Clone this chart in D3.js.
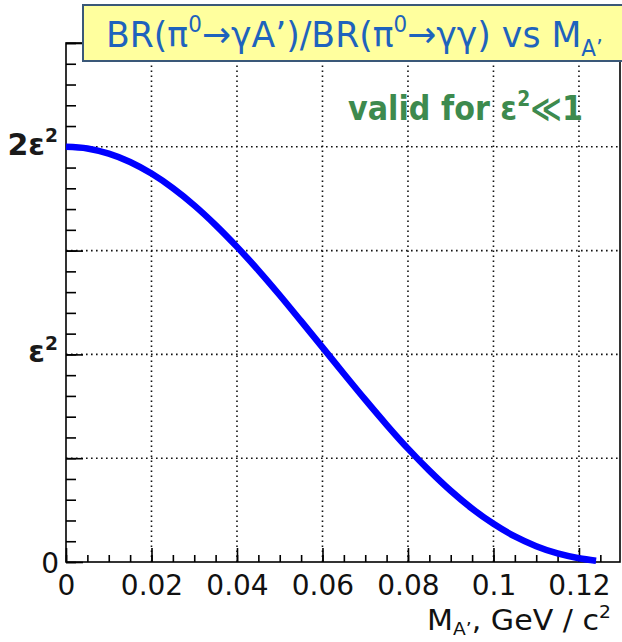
<!DOCTYPE html>
<html><head><meta charset="utf-8">
<script src="https://cdn.jsdelivr.net/npm/d3@7"></script>
<style>body{margin:0;background:#fff}svg{display:block}</style>
</head><body>
<svg id="c" width="622" height="642"></svg>
<script>
// ---- data ----
const massGeV  = [0,0.005,0.01,0.015,0.02,0.025,0.03,0.035,0.04,0.045,0.05,0.055,0.06,0.065,0.07,0.075,0.08,0.085,0.09,0.095,0.10,0.105,0.11,0.115,0.12,0.124];
const brRatio  = [2.000,1.992,1.967,1.927,1.871,1.801,1.718,1.623,1.518,1.405,1.285,1.160,1.034,0.907,0.782,0.661,0.546,0.440,0.343,0.257,0.184,0.123,0.076,0.041,0.018,0.006]; // in units of ε²
const xMajorTicks = [0,0.02,0.04,0.06,0.08,0.1,0.12];
const xTickLabels = ["0","0.02","0.04","0.06","0.08","0.1","0.12"];
const yTickValues = [0,1,2];
const yTickLabels = [["0",""],["ε","2"],["2ε","2"]];
const xGrid = [0.02,0.04,0.06,0.08,0.1,0.12];
const yGrid = [0.5,1,1.5,2];
const xMax = 0.1296, yMax = 2.5;

// ---- layout ----
const L=66,R=620,T=43,B=562;
const svg = d3.select("#c");
const x = d3.scaleLinear().domain([0,xMax]).range([L,R]);
const y = d3.scaleLinear().domain([0,yMax]).range([B,T]);

// gridlines
const grid = svg.append("g").attr("stroke","#111").attr("stroke-width",1.6).attr("stroke-dasharray","1.6 3.4");
grid.selectAll("line.v").data(xGrid).join("line").attr("class","v")
  .attr("x1",d=>x(d)).attr("x2",d=>x(d)).attr("y1",y(0)).attr("y2",y(yMax));
grid.selectAll("line.h").data(yGrid).join("line").attr("class","h")
  .attr("y1",d=>y(d)).attr("y2",d=>y(d)).attr("x1",x(0)).attr("x2",x(xMax));

// frame
svg.append("rect").attr("x",L).attr("y",T).attr("width",R-L).attr("height",B-T)
  .attr("fill","none").attr("stroke","#000").attr("stroke-width",1.6);

// x axis ticks
const xMinor = d3.range(0,xMax,0.005).map(v=>+v.toFixed(4));
const gxm = svg.append("g").attr("transform",`translate(0,${B})`)
  .call(d3.axisBottom(x).tickValues(xMinor).tickSize(-7).tickFormat(""));
const gx = svg.append("g").attr("transform",`translate(0,${B})`)
  .call(d3.axisBottom(x).tickValues(xMajorTicks).tickSize(-14).tickPadding(13)
    .tickFormat((d,i)=>xTickLabels[i]));
[gxm,gx].forEach(g=>{g.select(".domain").remove(); g.selectAll("line").attr("stroke","#000").attr("stroke-width",1.6);});
gx.selectAll("text").attr("font-family","DejaVu Sans").attr("font-size",28).attr("fill","#111");

// y axis ticks
const yMinor = d3.range(0,yMax+0.001,0.1).map(v=>+v.toFixed(2));
const yMajor = d3.range(0,yMax+0.001,0.5).map(v=>+v.toFixed(2));
const gym = svg.append("g").attr("transform",`translate(${L},0)`)
  .call(d3.axisLeft(y).tickValues(yMinor).tickSize(-10).tickFormat(""));
const gyM = svg.append("g").attr("transform",`translate(${L},0)`)
  .call(d3.axisLeft(y).tickValues(yMajor).tickSize(-17).tickFormat(""));
[gym,gyM].forEach(g=>{g.select(".domain").remove(); g.selectAll("line").attr("stroke","#000").attr("stroke-width",1.6);});

// helpers
function rich(parent, parts, fs, attrs, subShift){
  const t = parent.append("text");
  Object.entries(attrs).forEach(([k,v])=>t.attr(k,v));
  t.attr("font-size",fs);
  let shift=0;
  parts.forEach(p=>{
    const ts=t.append("tspan").text(p.t);
    let target=0;
    if(p.sup){target=-0.42*fs; ts.attr("font-size",fs*0.62);}
    if(p.sub){target=(subShift||0.28)*fs; ts.attr("font-size",fs*0.62);}
    const dy=target-shift; if(dy!==0) ts.attr("dy",dy);
    shift=target;
  });
  return t;
}
function fitX(t, x0, w){
  const bw=t.node().getBBox().width;
  const s=w/bw;
  t.attr("transform",`translate(${x0},0) scale(${s},1) translate(${-x0},0)`);
}

// y tick labels
yTickValues.forEach((v,i)=>{
  const [base,sup]=yTickLabels[i];
  if(v===0){
    svg.append("text").attr("x",59).attr("y",y(0)+11).attr("text-anchor","end")
      .attr("font-family","DejaVu Sans").attr("font-size",28).attr("fill","#111").text(base);
  } else {
    rich(svg,[{t:base},{t:sup,sup:true}],30,{x:58,y:y(v)+8,"text-anchor":"end","font-family":"DejaVu Sans","font-weight":"bold",fill:"#1a1a1a"});
  }
});

// curve
const line = d3.line().x((d,i)=>x(massGeV[i])).y(d=>y(d)).curve(d3.curveMonotoneX);
svg.append("path").datum(brRatio).attr("d",line).attr("fill","none")
  .attr("stroke","#0000ff").attr("stroke-width",6.5);

// title box
svg.append("rect").attr("x",83).attr("y",5).attr("width",600).attr("height",56)
  .attr("fill","#ffff9e").attr("stroke","#3a5878").attr("stroke-width",2);
const title = rich(svg,[{t:"BR(π"},{t:"0",sup:true},{t:"→γA’)/BR(π"},{t:"0",sup:true},{t:"→γγ) vs M"},{t:"A’",sub:true}],
  36,{x:106,y:47,"font-family":"DejaVu Sans",fill:"#1e63bd"},0.24);
fitX(title,106,497);

// annotation
const ann = rich(svg,[{t:"valid for ε"},{t:"2",sup:true},{t:"≪1"}],33,
  {x:348,y:120,"font-family":"DejaVu Sans","font-weight":"bold",fill:"#3d8a4e"});
fitX(ann,348,235);

// x axis title
const xt = rich(svg,[{t:"M"},{t:"A’",sub:true},{t:", GeV / c"},{t:"2",sup:true}],27.5,
  {x:427,y:630,"font-family":"DejaVu Sans",fill:"#111"},0.2);
fitX(xt,427,184);
</script>
</body></html>
